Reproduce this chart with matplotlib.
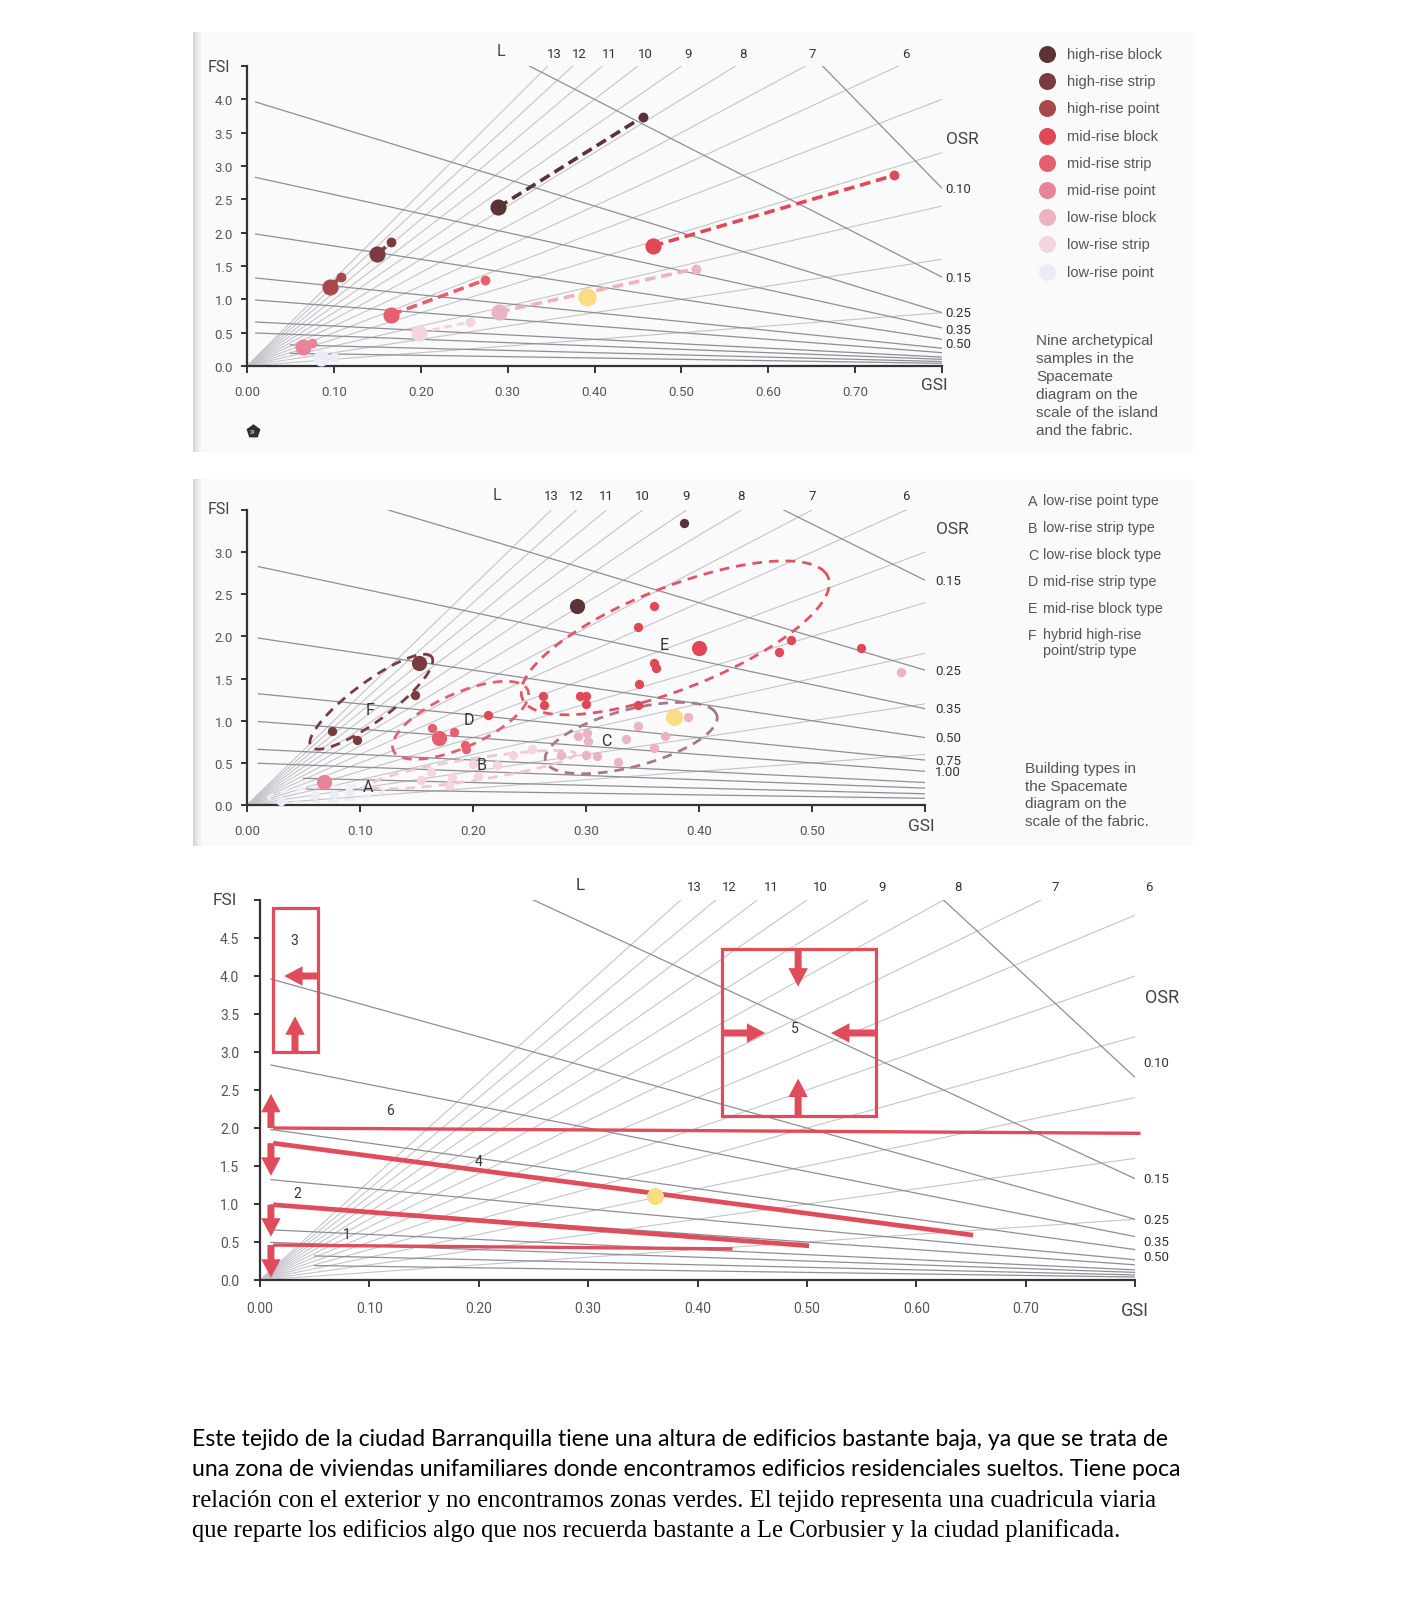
import numpy as np
import matplotlib
matplotlib.use("Agg")
import matplotlib.pyplot as plt
from matplotlib.patches import Rectangle

W, H = 1420, 1615
plt.rcParams["font.family"] = ["Roboto", "DejaVu Sans"]

RED = "#e04c5c"
YELLOW = "#f9dc84"
GRID_L = "#c4c4cb"
GRID_OSR = "#8e8e97"
AXIS = "#333333"
LABEL = "#555555"

# spacemate grid (layers L as rays, open space ratio OSR as falling lines)
L_VALUES = [1, 2, 3, 4, 5, 6, 7, 8, 9, 10, 11, 12, 13]
L_TOP_LABELS = [13, 12, 11, 10, 9, 8, 7, 6]
OSR_VALUES = [0.075, 0.15, 0.25, 0.35, 0.5, 0.75, 1.0, 1.5, 2.0, 3.0, 5.0]
OSR_LABELS_1 = {0.075: "0.10", 0.15: "0.15", 0.25: "0.25", 0.35: "0.35", 0.5: "0.50"}
OSR_LABELS_2 = {0.15: "0.15", 0.25: "0.25", 0.35: "0.35", 0.5: "0.50", 0.75: "0.75", 1.0: "1.00"}
OSR_LABELS_3 = OSR_LABELS_1

# panel 1: nine archetypes, island scale (big dot) and fabric scale (small dot)
TYPES = ["high-rise block", "high-rise strip", "high-rise point",
         "mid-rise block", "mid-rise strip", "mid-rise point",
         "low-rise block", "low-rise strip", "low-rise point"]
TYPE_COLORS = ["#5b3337", "#7a3a3e", "#a8474c", "#e04858", "#e65f6e",
               "#e8839a", "#ecb3c2", "#f3d5de", "#eaedf6"]
ISLAND_GSI = [0.289, 0.150, 0.096, 0.467, 0.166, 0.064, 0.290, 0.198, 0.085]
ISLAND_FSI = [2.38, 1.68, 1.19, 1.80, 0.77, 0.29, 0.81, 0.50, 0.12]
FABRIC_GSI = [0.456, 0.166, 0.108, 0.745, 0.274, 0.075, 0.517, 0.257, 0.100]
FABRIC_FSI = [3.74, 1.86, 1.34, 2.86, 1.29, 0.35, 1.46, 0.66, 0.14]
CASE_GSI_1, CASE_FSI_1 = 0.391, 1.04

# panel 2: samples of building types (type index, big dot flag)
P2_GSI = [0.387, 0.292,
          0.152, 0.149, 0.075, 0.097,
          0.360, 0.346, 0.400, 0.360, 0.362, 0.481, 0.471, 0.543, 0.347,
          0.262, 0.263, 0.295, 0.300, 0.300, 0.346, 0.213,
          0.170, 0.164, 0.183, 0.193, 0.194,
          0.068,
          0.390, 0.370, 0.346, 0.335, 0.360, 0.328, 0.293, 0.301, 0.302,
          0.278, 0.300, 0.310, 0.579,
          0.235, 0.252, 0.221, 0.200, 0.204, 0.163, 0.181, 0.179, 0.154,
          0.060, 0.077, 0.090, 0.030]
P2_FSI = [3.34, 2.36,
          1.68, 1.30, 0.88, 0.77,
          2.36, 2.11, 1.86, 1.68, 1.63, 1.96, 1.81, 1.86, 1.43,
          1.29, 1.19, 1.29, 1.29, 1.20, 1.19, 1.07,
          0.79, 0.91, 0.87, 0.71, 0.67,
          0.27,
          1.05, 0.82, 0.94, 0.78, 0.68, 0.51, 0.82, 0.86, 0.76,
          0.59, 0.59, 0.58, 1.58,
          0.59, 0.66, 0.48, 0.49, 0.35, 0.39, 0.33, 0.24, 0.30,
          0.12, 0.13, 0.16, 0.05]
P2_TYPE = [0, 0,
           1, 1, 1, 1,
           3, 3, 3, 3, 3, 3, 3, 3, 3,
           3, 3, 3, 3, 3, 3, 3,
           4, 4, 4, 4, 4,
           5,
           6, 6, 6, 6, 6, 6, 6, 6, 6,
           6, 6, 6, 6,
           7, 7, 7, 7, 7, 7, 7, 7, 7,
           8, 8, 8, 8]
P2_BIG = [0, 1,
          1, 0, 0, 0,
          0, 0, 1, 0, 0, 0, 0, 0, 0,
          0, 0, 0, 0, 0, 0, 0,
          1, 0, 0, 0, 0,
          1,
          0, 0, 0, 0, 0, 0, 0, 0, 0,
          0, 0, 0, 0,
          0, 0, 0, 0, 0, 0, 0, 0, 0,
          0, 0, 0, 0]
CASE_GSI_2, CASE_FSI_2 = 0.378, 1.04

# type groups: centre, half major axis, half minor axis (GSI, FSI)
GROUP_NAMES = ["F", "D", "E", "C", "B", "A"]
GROUP_CENTER = [(0.110, 1.225), (0.189, 1.005), (0.379, 1.983),
                (0.340, 0.794), (0.200, 0.420), (0.070, 0.130)]
GROUP_MAJOR = [(0.052, 0.549), (0.057, 0.403), (0.132, 0.786),
               (0.0745, 0.307), (0.090, 0.200), (0.050, 0.060)]
GROUP_MINOR = [(0.016, -0.127), (0.0195, -0.227), (0.034, -0.464),
               (0.0157, -0.2915), (0.010, -0.110), (0.010, -0.080)]
GROUP_COLORS = ["#7a3c42", "#e06070", "#e05565", "#a8788a", "#efc8d2", "#eceef4"]
GROUP_LABEL_POS = [(0.109, 1.13), (0.196, 1.02), (0.369, 1.91),
                   (0.318, 0.77), (0.208, 0.48), (0.107, 0.22)]
GROUP_LEGEND = ["low-rise point type", "low-rise strip type", "low-rise block type",
                "mid-rise strip type", "mid-rise block type",
                "hybrid high-rise\npoint/strip type"]

# panel 3: strategies
STRAT_IDS = ["1", "2", "4", "6"]
STRAT_START_GSI = [0.012, 0.012, 0.012, 0.012]
STRAT_START_FSI = [0.46, 0.99, 1.80, 2.00]
STRAT_END_GSI = [0.432, 0.502, 0.652, 0.805]
STRAT_END_FSI = [0.41, 0.45, 0.59, 1.93]
STRAT_ARROW_TO = [0.03, 0.57, 1.37, 2.45]
BOX_IDS = ["3", "5"]
BOX_GSI = [(0.012, 0.053), (0.422, 0.563)]
BOX_FSI = [(3.0, 4.9), (2.16, 4.36)]
BOX_ARROWS = [((0.053, 4.0), (0.022, 4.0)), ((0.032, 3.0), (0.032, 3.47)),
              ((0.492, 4.36), (0.492, 3.86)), ((0.492, 2.16), (0.492, 2.65)),
              ((0.422, 3.25), (0.462, 3.25)), ((0.563, 3.25), (0.522, 3.25))]
NUMBER_POS = {"1": (0.079, 0.60), "2": (0.034, 1.14), "3": (0.031, 4.47),
              "4": (0.200, 1.57), "5": (0.489, 3.31), "6": (0.119, 2.24)}
CASE_GSI_3, CASE_FSI_3 = 0.361, 1.11


def px_axes(fig, x0, y_top, x1, y_bottom):
    return fig.add_axes([x0 / W, 1 - y_bottom / H, (x1 - x0) / W, (y_bottom - y_top) / H])


def draw_grid(ax, xmax, ymax, osr_labels, osr_dx, osr_dy, l_dx, l_dy):
    for L in L_VALUES:
        x_end = min(ymax / L, xmax)
        ax.plot([0, x_end], [0, L * x_end], color=GRID_L, lw=0.8, zorder=1)
    for osr in OSR_VALUES:
        x0 = 0.01 if osr < 3 else 0.05
        x_start = max(x0, 1 - ymax * osr)
        if x_start >= xmax:
            continue
        ax.plot([x_start, xmax], [(1 - x_start) / osr, (1 - xmax) / osr],
                color=GRID_OSR, lw=0.9, zorder=1)
        if osr in osr_labels:
            ax.annotate(osr_labels[osr], (xmax, (1 - xmax) / osr),
                        xytext=(osr_dx, osr_dy.get(osr, 0)), textcoords="offset pixels",
                        ha="left", va="center", fontsize=9.5, color=AXIS,
                        annotation_clip=False)
    for L in L_TOP_LABELS:
        x = min(ymax / L, xmax)
        ax.annotate(str(L), (x, ymax), xytext=(l_dx, l_dy), textcoords="offset pixels",
                    ha="center", va="center", fontsize=9.5, color=AXIS,
                    annotation_clip=False)


def style_axes(ax, xmax, ymax, xstep, ystep, size, xpad, ypad):
    ax.set_xlim(0, xmax)
    ax.set_ylim(0, ymax)
    ax.set_facecolor("none")
    for s in ["top", "right"]:
        ax.spines[s].set_visible(False)
    for s in ["left", "bottom"]:
        ax.spines[s].set_color(AXIS)
        ax.spines[s].set_linewidth(1.6)
    xt = np.round(np.arange(0, xmax + 1e-9, xstep), 2)
    yt = np.round(np.arange(0, ymax + 1e-9, ystep), 1)
    ax.set_xticks(xt)
    ax.set_xticklabels([f"{v:.2f}" for v in xt[:-1]] + [""])
    ax.set_yticks(yt)
    ax.set_yticklabels([f"{v:.1f}" for v in yt[:-1]] + [""])
    ax.tick_params(axis="x", direction="out", length=5, width=1.4, color=AXIS,
                   labelcolor=LABEL, labelsize=size, pad=xpad)
    ax.tick_params(axis="y", direction="out", length=4, width=1.4, color=AXIS,
                   labelcolor=LABEL, labelsize=size, pad=ypad)


def fat_arrow(ax, start, end):
    ax.annotate("", xy=end, xytext=start,
                arrowprops=dict(arrowstyle="simple,head_length=0.95,head_width=1.0,tail_width=0.36",
                                color=RED, lw=0, shrinkA=0, shrinkB=0, mutation_scale=14),
                annotation_clip=False, zorder=5)


fig = plt.figure(figsize=(W / 100, H / 100), dpi=100)
fig.patch.set_facecolor("white")

# scanned page background
bg = fig.add_axes([0, 0, 1, 1])
bg.set_xlim(0, W)
bg.set_ylim(H, 0)
bg.axis("off")
bg.set_zorder(0)
for top, bottom in [(33, 453), (480, 847)]:
    bg.add_patch(Rectangle((193, top), 1000, bottom - top, color="#fafafa", lw=0))
    for i, c in enumerate(["#d6d6d6", "#e2e2e2", "#ececec", "#f3f3f3"]):
        bg.add_patch(Rectangle((193 + 2 * i, top), 2, bottom - top, color=c, lw=0))

# ---------- panel 1 ----------
ax1 = px_axes(fig, 247, 67, 942, 367)
ax1.set_zorder(1)
style_axes(ax1, 0.8, 4.5, 0.1, 0.5, 9.5, 8.5, 6)
draw_grid(ax1, 0.8, 4.5, OSR_LABELS_1, 3, {0.35: -2, 0.5: -4}, 7, 12)
for i, col in enumerate(TYPE_COLORS):
    ax1.plot([ISLAND_GSI[i], FABRIC_GSI[i]], [ISLAND_FSI[i], FABRIC_FSI[i]],
             color=col, lw=2.6 if i < 7 else 2.0, ls=(0, (3, 1.6)), zorder=3)
    ax1.scatter(ISLAND_GSI[i], ISLAND_FSI[i], s=135, color=col, lw=0, zorder=4)
    ax1.scatter(FABRIC_GSI[i], FABRIC_FSI[i], s=50, color=col, lw=0, zorder=4)
ax1.scatter(CASE_GSI_1, CASE_FSI_1, s=170, color=YELLOW, lw=0, zorder=4)

# ---------- panel 2 ----------
ax2 = px_axes(fig, 247, 511, 925, 806)
ax2.set_zorder(1)
style_axes(ax2, 0.6, 3.5, 0.1, 0.5, 9.5, 8.5, 6)
draw_grid(ax2, 0.6, 3.5, OSR_LABELS_2, 10, {}, 0, 14)
t = np.linspace(0, 2 * np.pi, 240)
for c, u, v, col in zip(GROUP_CENTER, GROUP_MAJOR, GROUP_MINOR, GROUP_COLORS):
    gx = c[0] + u[0] * np.cos(t) + v[0] * np.sin(t)
    gy = c[1] + u[1] * np.cos(t) + v[1] * np.sin(t)
    ax2.plot(gx, gy, color=col, lw=2.0, ls=(0, (3.5, 2.5)), zorder=3)
for name, pos in zip(GROUP_NAMES, GROUP_LABEL_POS):
    ax2.text(pos[0], pos[1], name, fontsize=11.5, color="#333333",
             ha="center", va="center", zorder=5)
for gx, gy, k, big in zip(P2_GSI, P2_FSI, P2_TYPE, P2_BIG):
    ax2.scatter(gx, gy, s=120 if big else 45, color=TYPE_COLORS[k], lw=0, zorder=4)
ax2.scatter(CASE_GSI_2, CASE_FSI_2, s=150, color=YELLOW, lw=0, zorder=4)

# ---------- panel 3 ----------
ax3 = px_axes(fig, 260, 901, 1135, 1281)
ax3.set_zorder(1)
style_axes(ax3, 0.8, 5.0, 0.1, 0.5, 10, 10, 11)
draw_grid(ax3, 0.8, 5.0, OSR_LABELS_3, 8, {0.075: 15, 0.35: -5, 0.5: -7}, 14, 13)
for k, sid in enumerate(STRAT_IDS):
    lw = 3.4 if sid in ("2", "4") else 2.4
    ax3.plot([STRAT_START_GSI[k], STRAT_END_GSI[k]], [STRAT_START_FSI[k], STRAT_END_FSI[k]],
             color=RED, lw=lw, solid_capstyle="butt", zorder=4, clip_on=False)
    fat_arrow(ax3, (0.01, STRAT_START_FSI[k]), (0.01, STRAT_ARROW_TO[k]))
for (gx0, gx1), (fy0, fy1) in zip(BOX_GSI, BOX_FSI):
    ax3.add_patch(Rectangle((gx0, fy0), gx1 - gx0, fy1 - fy0, fill=False,
                            edgecolor=RED, lw=2.3, zorder=4))
for start, end in BOX_ARROWS:
    fat_arrow(ax3, start, end)
for key, pos in NUMBER_POS.items():
    ax3.text(pos[0], pos[1], key, fontsize=10, color="#333333",
             ha="center", va="center", zorder=6)
ax3.scatter(CASE_GSI_3, CASE_FSI_3, s=150, color=YELLOW, lw=0, zorder=5)

# ---------- labels, legends, captions (pixel positions) ----------
ov = fig.add_axes([0, 0, 1, 1])
ov.set_xlim(0, W)
ov.set_ylim(H, 0)
ov.axis("off")
ov.set_zorder(2)

axis_titles = [
    ("FSI", 219, 68, 11.5), ("OSR", 962, 140, 12.5), ("GSI", 934, 386, 12.5), ("L", 501, 52, 11.5),
    ("FSI", 219, 510, 11.5), ("OSR", 952, 530, 12.5), ("GSI", 921, 827, 12.5), ("L", 497, 495, 11.5),
    ("FSI", 225, 901, 12.5), ("OSR", 1162, 998, 13), ("GSI", 1135, 1311, 13), ("L", 580, 886, 12.5),
]
for s, x, y, fs in axis_titles:
    ov.text(x, y, s, fontsize=fs, color="#444444", ha="center", va="center")

ov.scatter([253], [432], marker="p", s=110, color="#2e2e2e", lw=0)
ov.text(253, 433, "29", fontsize=3.5, color="white", ha="center", va="center")

for i, (name, col) in enumerate(zip(TYPES, TYPE_COLORS)):
    y = 55 + 27.2 * i
    ov.scatter([1047], [y], s=150, color=col, lw=0)
    ov.text(1067, y, name, fontsize=10.5, color=LABEL, ha="left", va="center",
            family="Liberation Sans")
ov.text(1036, 334, "Nine archetypical\nsamples in the\nSpacemate\ndiagram on the\n"
        "scale of the island\nand the fabric.", fontsize=11, color=LABEL,
        ha="left", va="top", linespacing=1.36, family="Liberation Sans")

for i, (name, desc) in enumerate(zip("ABCDEF", GROUP_LEGEND)):
    y = 502 + 26.8 * i
    ov.text(1028, y, name, fontsize=10.3, color=LABEL, ha="left", va="center",
            family="Liberation Sans")
    ov.text(1043, y - 7.5, desc, fontsize=10.3, color=LABEL, ha="left", va="top",
            linespacing=1.12, family="Liberation Sans")
ov.text(1025, 762, "Building types in\nthe Spacemate\ndiagram on the\nscale of the fabric.",
        fontsize=11, color=LABEL, ha="left", va="top", linespacing=1.33,
        family="Liberation Sans")

# paragraph, each line fitted to its width in the page
para = [
    ("Este tejido de la ciudad Barranquilla tiene una altura de edificios bastante baja, ya que se trata de",
     1440, 981, "Lato"),
    ("una zona de viviendas unifamiliares donde encontramos edificios residenciales sueltos. Tiene poca",
     1470, 989, "Lato"),
    ("relación con el exterior y no encontramos zonas verdes. El tejido representa una cuadricula viaria",
     1501, 962, "Liberation Serif"),
    ("que reparte los edificios algo que nos recuerda bastante a Le Corbusier y la ciudad planificada.",
     1531, 930, "Liberation Serif"),
]
renderer = fig.canvas.get_renderer()
for s, y, width, fam in para:
    txt = ov.text(192, y, s, fontsize=16, color="black", ha="left", va="center", family=fam)
    w = txt.get_window_extent(renderer).width
    txt.set_fontsize(16 * width / w)

fig.savefig("out.png", dpi=100, facecolor="white")
